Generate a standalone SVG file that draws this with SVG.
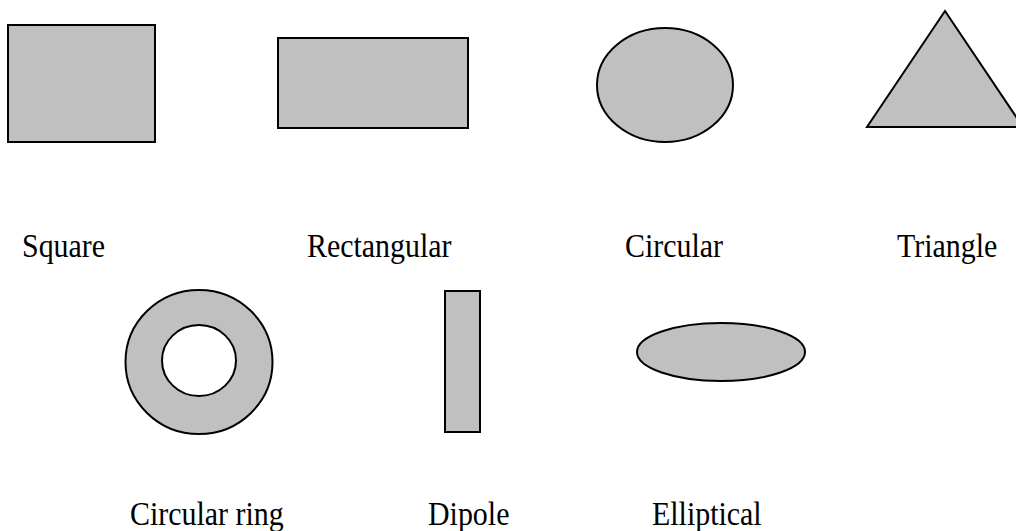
<svg xmlns="http://www.w3.org/2000/svg" width="1016" height="531" viewBox="0 0 1016 531">
<style>
.s{fill:#c0c0c0;stroke:#000;stroke-width:2}
.t{font-family:"Liberation Serif","Times New Roman",serif;font-size:34px;fill:#000}
</style>
<rect width="1016" height="531" fill="#fff"/>
<g id="square"><rect class="s" x="8" y="25" width="147" height="117"/><text class="t" transform="translate(22,257) scale(0.88,1)">Square</text></g>
<g id="rectangular"><rect class="s" x="278" y="38" width="190" height="90"/><text class="t" transform="translate(307,257) scale(0.88,1)">Rectangular</text></g>
<g id="circular"><ellipse class="s" cx="665" cy="85" rx="68" ry="57"/><text class="t" transform="translate(625,257) scale(0.88,1)">Circular</text></g>
<g id="triangle"><polygon class="s" points="945,11 867,127 1023,127"/><text class="t" transform="translate(897,257) scale(0.88,1)">Triangle</text></g>
<g id="circular-ring"><path class="s" fill-rule="evenodd" d="M125.5,362a73.5,72 0 1,0 147,0a73.5,72 0 1,0 -147,0Z M162,360.5a37,35.5 0 1,0 74,0a37,35.5 0 1,0 -74,0Z"/><text class="t" transform="translate(130,525) scale(0.88,1)">Circular ring</text></g>
<g id="dipole"><rect class="s" x="445" y="291" width="35" height="141"/><text class="t" transform="translate(428,525) scale(0.88,1)">Dipole</text></g>
<g id="elliptical"><ellipse class="s" cx="721" cy="352" rx="84" ry="29"/><text class="t" transform="translate(652,525) scale(0.88,1)">Elliptical</text></g>
</svg>
